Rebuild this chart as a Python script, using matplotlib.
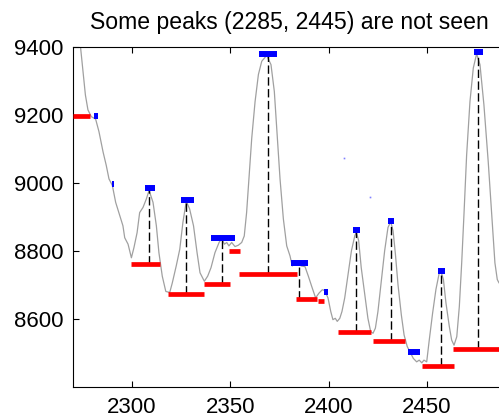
import matplotlib
matplotlib.use('Agg')
import matplotlib.pyplot as plt

# 1. font settings
plt.rcParams['font.family'] = ['Liberation Sans', 'DejaVu Sans']

# 2. data
signal_x = [2270, 2273.7, 2275.1, 2276.3, 2277.6, 2279.3, 2281.5, 2283.2, 2285.3, 2286.9,
            2288.3, 2290.0, 2291.7, 2293.8, 2295.4, 2296.3, 2298.0, 2299.7, 2301.0, 2302.6,
            2303.9, 2305.6, 2307.3, 2308.7, 2310.7, 2312.4, 2313.7, 2315.4, 2317.2, 2319.2,
            2320.5, 2322.5, 2324.3, 2325.9, 2327.6, 2329.3, 2331.3, 2333.1, 2334.6, 2336.8,
            2338.5, 2340.2, 2342.2, 2344.3, 2345.6, 2347.0, 2348.2, 2349.3, 2350.7, 2352.4,
            2354.1, 2355.8, 2357.1, 2358.3, 2359.5, 2360.9, 2362.6, 2364.3, 2366.0, 2368.5,
            2370.7, 2372.4, 2373.6, 2375.3, 2377.0, 2378.7, 2380.4, 2381.5, 2382.9, 2384.6,
            2386.0, 2388.0, 2389.7, 2391.4, 2393.4, 2395.1, 2396.8, 2398.0, 2399.7, 2401.1,
            2402.2, 2403.4, 2404.4, 2405.7, 2406.8, 2408.2, 2409.9, 2411.6, 2413.3, 2414.1,
            2415.3, 2416.6, 2418.4, 2420.0, 2421.4, 2422.6, 2423.8, 2425.1, 2426.8, 2428.5,
            2430.2, 2431.6, 2432.8, 2434.0, 2435.3, 2437.0, 2438.4, 2440.0, 2441.8, 2443.1,
            2444.8, 2446.1, 2447.4, 2448.5, 2449.9, 2451.2, 2452.9, 2454.6, 2456.3, 2457.2,
            2458.4, 2459.7, 2461.4, 2462.6, 2463.8, 2465.2, 2466.5, 2467.7, 2468.9, 2470.2,
            2471.9, 2473.6, 2475.3, 2477.0, 2479.0, 2481.2, 2482.9, 2484.6, 2485.8, 2486.7,
            2490]
signal_y = [9560, 9407, 9328, 9259, 9215, 9195, 9188, 9151, 9091, 9052,
            9012, 8993, 8943, 8904, 8874, 8839, 8820, 8780, 8810, 8854,
            8913, 8928, 8953, 8978, 8943, 8874, 8795, 8726, 8681, 8678,
            8706, 8756, 8805, 8884, 8946, 8924, 8874, 8795, 8736, 8711,
            8726, 8751, 8795, 8825, 8837, 8820, 8825, 8815, 8825, 8813,
            8817, 8825, 8844, 8913, 9012, 9131, 9239, 9319, 9358, 9375,
            9348, 9269, 9161, 9012, 8894, 8815, 8785, 8756, 8761, 8767,
            8756, 8754, 8726, 8696, 8662, 8676, 8686, 8684, 8662, 8622,
            8598, 8602, 8593, 8602, 8622, 8662, 8731, 8800, 8844, 8856,
            8830, 8751, 8672, 8602, 8563, 8558, 8573, 8622, 8711, 8800,
            8869, 8886, 8859, 8790, 8701, 8612, 8553, 8519, 8499, 8484,
            8474, 8479, 8471, 8479, 8474, 8538, 8617, 8687, 8736, 8739,
            8716, 8647, 8578, 8538, 8523, 8548, 8637, 8765, 8913, 9081,
            9239, 9338, 9380, 9348, 9230, 9062, 8913, 8765, 8716, 8706,
            8690]

# peaks found (blue) : left, right, height
peak_left = [2280.8, 2289.7, 2306.6, 2324.8, 2340.2, 2364.5, 2380.7, 2397.8, 2412.6, 2430.1, 2440.2, 2455.8, 2473.8]
peak_right = [2282.9, 2291.0, 2311.7, 2331.7, 2352.4, 2373.6, 2389.7, 2399.5, 2415.8, 2433.3, 2446.3, 2459.0, 2478.7]
peak_height = [9197, 8996, 8984, 8951, 8839, 9378, 8765, 8680, 8861, 8888, 8502, 8741, 9385]

# bases (red) : left, right, level
base_left = [2270, 2299.3, 2318.5, 2336.5, 2349.3, 2354.4, 2383.4, 2394.6, 2404.8, 2422.7, 2447.5, 2463.3]
base_right = [2278.5, 2314.3, 2336.6, 2349.7, 2354.8, 2383.8, 2394.0, 2397.8, 2421.6, 2439.0, 2463.6, 2490]
base_level = [9197, 8761.5, 8673.5, 8703, 8800, 8732, 8658, 8654, 8562, 8536, 8461, 8510.5]

# prominence lines (dashed) : position, top, bottom
prom_x = [2308.5, 2327.5, 2345.6, 2369.0, 2385.0, 2413.9, 2431.6, 2457.2, 2475.8]
prom_top = [8984, 8951, 8839, 9378, 8765, 8861, 8888, 8741, 9385]
prom_bottom = [8761.5, 8673.5, 8703, 8732, 8658, 8562, 8536, 8461, 8510.5]

# stray tiny marks
dot_x = [2407.8, 2421.2]
dot_y = [9073, 8959]

x_ticks = [2300, 2350, 2400, 2450]
y_ticks = [8600, 8800, 9000, 9200, 9400]

# 3. plot
fig = plt.figure(figsize=(4.99, 4.19), dpi=100)
ax = fig.add_axes([0.1463, 0.0764, 0.8668, 0.8115])

ax.plot(signal_x, signal_y, color='#a0a0a0', linewidth=0.9, zorder=1)
ax.vlines(prom_x, prom_bottom, prom_top, colors='black', linestyles=(0, (6, 2.5)),
          linewidth=1.0, zorder=2)
ax.hlines(peak_height, peak_left, peak_right, colors='blue', linewidth=4.3,
          capstyle='butt', zorder=3)
ax.hlines(base_level, base_left, base_right, colors='red', linewidth=3.4,
          capstyle='butt', zorder=3)
ax.plot(dot_x, dot_y, 's', color='#8080ff', markersize=1.2, markeredgewidth=0, zorder=3)

ax.set_xlim(2270, 2490)
ax.set_ylim(8400, 9400)
ax.set_xticks(x_ticks)
ax.set_yticks(y_ticks)
ax.tick_params(direction='in', length=4, width=0.8, labelsize=16, pad=7,
               top=True, right=True)
for s in ax.spines.values():
    s.set_linewidth(0.8)

ax.set_title('Some peaks (2285, 2445) are not seen', fontsize=16.6, pad=13)

plt.savefig('out.png', dpi=100)
